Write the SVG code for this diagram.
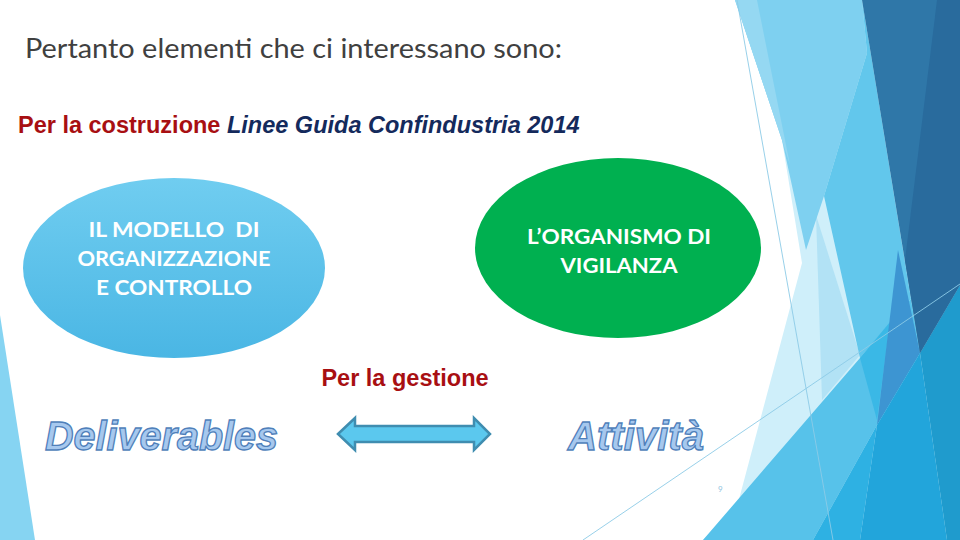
<svg xmlns="http://www.w3.org/2000/svg" width="960" height="540" viewBox="0 0 960 540">
<defs>
<linearGradient id="gBlue" x1="0" y1="0" x2="0" y2="1">
<stop offset="0" stop-color="#70cdf0"/>
<stop offset="1" stop-color="#4ab6e4"/>
</linearGradient>
<style>
.title{font-family:Lato,"Noto Sans",sans-serif;font-size:27px;fill:#404040}
.sub{font-family:"Liberation Sans",Arial,sans-serif;font-size:23.5px;font-weight:bold}
.red{fill:#a80f12}
.navy{fill:#142a5c;font-style:italic}
.nodetxt{font-family:Lato,"Noto Sans",sans-serif;font-size:21px;font-weight:bold;fill:#ffffff;text-anchor:middle}
.wa{font-family:"Liberation Sans",Arial,sans-serif;font-size:40px;font-weight:bold;font-style:italic;fill:#a6c8ee;stroke:#4f7fba;stroke-width:1.3}
.thin{stroke:#8ccbe6;stroke-width:0.9;fill:none}
</style>
</defs>
<rect width="960" height="540" fill="#ffffff"/>
<g id="background">
<polygon points="0,315 35,540 0,540" fill="#86d4f2"/>
<polygon points="735,0 782,140 802,263 738,503 703,540 960,540 960,0" fill="#cfeffa"/>
<polygon points="816,215 860,355 822,400" fill="#b2e2f5"/>
<polygon points="735,0 862,0 867,53 824,196 806,250 782,140" fill="#7ed0f0"/>
<polygon points="735,0 757,0 790,165 782,140" fill="#95d8f2"/>
<polygon points="862,0 911,299 860,358 824,196 867,53" fill="#62c7ec"/>
<polygon points="703,540 860,358 911,299 920,353 877,425 813,540" fill="#57c2ea"/>
<polygon points="860,358 890,322 877,420" fill="#3ab8e6"/>
<polygon points="898,250 920,353 877,425" fill="#3d95d2"/>
<polygon points="813,540 877,425 860,540" fill="#2eb1e3"/>
<polygon points="860,540 877,425 920,353 947,540" fill="#22a5db"/>
<polygon points="920,353 960,285 960,540 947,540" fill="#1f9bcd"/>
<polygon points="862,0 960,0 960,285 920,353" fill="#2f77a8"/>
<polygon points="937,0 960,0 960,285 920,353 905,260" fill="#296b9d"/>
<line class="thin" x1="737" y1="0" x2="833" y2="540"/>
<line class="thin" x1="583" y1="540" x2="960" y2="284"/>
</g>
<g id="title">
<text class="title" x="25" y="58" textLength="537" lengthAdjust="spacingAndGlyphs">Pertanto elementi che ci interessano sono:</text>
</g>
<g id="subtitle">
<text class="sub" x="18" y="133"><tspan class="red">Per la costruzione </tspan><tspan class="navy">Linee Guida Confindustria 2014</tspan></text>
</g>
<g id="node-modello">
<ellipse cx="174" cy="268" rx="151" ry="90" fill="url(#gBlue)"/>
<text class="nodetxt" x="174" y="237" xml:space="preserve" textLength="171" lengthAdjust="spacingAndGlyphs">IL MODELLO  DI</text>
<text class="nodetxt" x="174" y="266" textLength="193" lengthAdjust="spacingAndGlyphs">ORGANIZZAZIONE</text>
<text class="nodetxt" x="174" y="295" textLength="156" lengthAdjust="spacingAndGlyphs">E CONTROLLO</text>
</g>
<g id="node-organismo">
<ellipse cx="618" cy="248" rx="143" ry="90" fill="#00b050"/>
<text class="nodetxt" x="619" y="244" textLength="184" lengthAdjust="spacingAndGlyphs">L’ORGANISMO DI</text>
<text class="nodetxt" x="619" y="273" textLength="117" lengthAdjust="spacingAndGlyphs">VIGILANZA</text>
</g>
<g id="label-gestione">
<text class="sub red" x="405" y="386" text-anchor="middle">Per la gestione</text>
</g>
<g id="node-deliverables">
<text class="wa" x="45" y="450" textLength="233" lengthAdjust="spacingAndGlyphs">Deliverables</text>
</g>
<g id="node-attivita">
<text class="wa" x="568" y="450" textLength="136" lengthAdjust="spacingAndGlyphs">Attività</text>
</g>
<g id="connectors">
<path d="M338,434 L355,418 L355,426 L474,426 L474,418 L490,434 L474,450 L474,442 L355,442 L355,450 Z" fill="#5bc8ee" stroke="#3f8db0" stroke-width="2.5" stroke-linejoin="miter"/>
</g>
<g id="page-number">
<text x="718" y="492" font-family="Lato,sans-serif" font-size="8" fill="#8fc4e0">9</text>
</g>
</svg>
